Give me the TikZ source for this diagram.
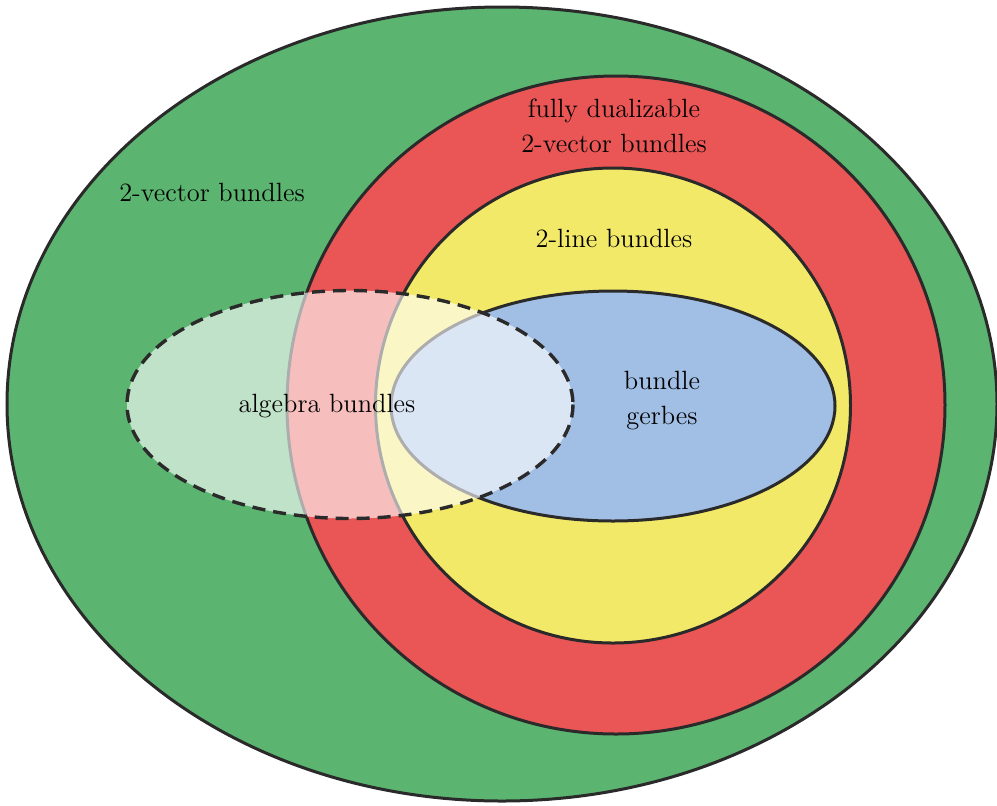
\documentclass[tikz,border=0pt]{standalone}
\usetikzlibrary{shapes.geometric}
\definecolor{cgreen}{HTML}{5BB570}
\definecolor{cred}{HTML}{EA5555}
\definecolor{cyellow}{HTML}{F3E968}
\definecolor{cblue}{HTML}{A1BEE5}
\definecolor{cline}{HTML}{2A2A2A}
\begin{document}
\begin{tikzpicture}[x=0.5pt,y=-0.5pt,
  region/.style={draw=cline,line width=1.5pt},
  lbl/.style={font=\fontsize{13.2}{17.5}\selectfont,align=center,inner sep=0pt}]
\useasboundingbox (0,0) rectangle (997,805);
\draw[region,fill=cgreen] (502,404) ellipse [x radius=495, y radius=397];
\draw[region,fill=cred] (616,405) circle [radius=329];
\draw[region,fill=cyellow] (613,405.5) circle [radius=237.5];
\draw[region,fill=cblue] (613,406) ellipse [x radius=222, y radius=115];
\fill[white,fill opacity=0.62] (350,404.5) ellipse [x radius=223, y radius=114];
\draw[cline,line width=1.7pt,dash pattern=on 6.5pt off 4pt] (350,404.5) ellipse [x radius=223, y radius=114];
\node[lbl] (vb) at (212,192) {2-vector bundles};
\node[lbl] (fd) at (614,126) {fully dualizable\\2-vector bundles};
\node[lbl] (lb) at (614,238) {2-line bundles};
\node[lbl] (bg) at (662,401) {bundle\\gerbes};
\node[lbl] (ab) at (327,406) {algebra bundles};
\end{tikzpicture}
\end{document}
